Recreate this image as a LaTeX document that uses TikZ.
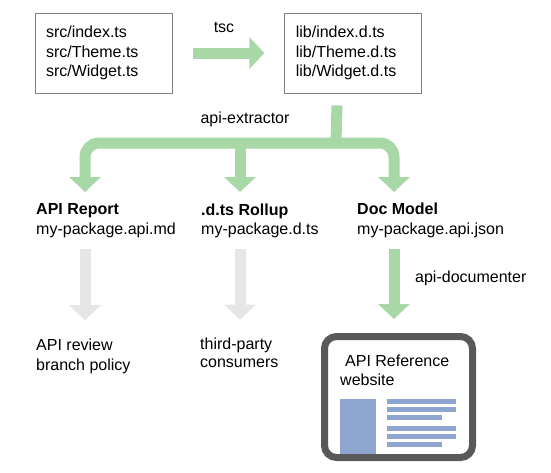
\documentclass[tikz,border=0pt]{standalone}
\usepackage{fontspec}
\setmainfont{Liberation Sans}
\usetikzlibrary{arrows.meta, positioning}

\definecolor{flowgreen}{RGB}{168,216,166}
\definecolor{idlegray}{RGB}{230,230,230}
\definecolor{pageblue}{RGB}{142,165,207}
\definecolor{framegray}{RGB}{89,89,89}
\definecolor{boxline}{RGB}{128,128,128}

\begin{document}
\begin{tikzpicture}[x=1pt, y=-1pt, font=\fontsize{16}{19.5}\selectfont]
% Define styles
\tikzstyle{filebox} = [rectangle, draw=boxline, line width=0.8pt, text width=115pt, align=left, inner xsep=11pt, minimum height=80pt]
\tikzstyle{textnode} = [inner sep=0pt, anchor=base west, align=left]
\tikzstyle{fatarrow} = [line width=11pt, -{Triangle[width=31pt,length=15pt]}]
\tikzstyle{greenarrow} = [fatarrow, draw=flowgreen]
\tikzstyle{grayarrow} = [fatarrow, draw=idlegray]
\tikzstyle{greenbus} = [line width=11pt, draw=flowgreen]

\useasboundingbox (0,0) rectangle (551,472);

% Sources and compiled output
\node (src) [filebox] at (103.5,53) {src/index.ts\\src/Theme.ts\\src/Widget.ts};
\node (lib) [filebox, right=112pt of src] {lib/index.d.ts\\lib/Theme.d.ts\\lib/Widget.d.ts};
\node (tsc) [textnode, anchor=base] at (224,32.5) {tsc};
\draw [greenarrow, shorten <=21pt, shorten >=20pt] (src.east) -- (lib.west);

% api-extractor fan-out
\node (extractor) [textnode, anchor=base] at (245,123.5) {api-extractor};
\coordinate (hub) at (336,143);
\coordinate (reportin) at (85,192);
\coordinate (rollupin) at (240,192);
\coordinate (modelin) at (394,192);
\draw [greenbus, shorten <=12pt] ([xshift=-16pt]lib.south) -- (hub);
\draw [greenarrow, rounded corners=14pt] (hub) -| (reportin);
\draw [greenarrow] (hub -| rollupin) -- (rollupin);
\draw [greenarrow, rounded corners=14pt] (hub) -| (modelin);

% Outputs (base = last line)
\node (report) [textnode] at (36,234) {\textbf{API Report}\\my-package.api.md};
\node (rollup) [textnode] at (201,234.5) {\textbf{.d.ts Rollup}\\my-package.d.ts};
\node (model) [textnode] at (357,234) {\textbf{Doc Model}\\my-package.api.json};

% Consumers
\node (review) [textnode, font=\fontsize{16}{20}\selectfont] at (36,370) {API review\\branch policy};
\node (consumers) [textnode, font=\fontsize{16}{17.5}\selectfont] at (200,367) {third-party\\consumers};
\node (documenter) [textnode] at (415,282) {api-documenter};

% Website
\fill [pageblue] (340,399) rectangle (376,454);
\foreach \y/\len in {399/456, 407/456, 415/442, 426/456, 434/456, 442/442}
  \fill [pageblue] (387,\y) rectangle (\len,\y+5);
\node (site) [draw=framegray, line width=7pt, rounded corners=12pt, minimum width=148pt, minimum height=121pt] at (398.5,397) {};
\node (sitetitle) [textnode] at (340,385.5) {\hspace*{5pt}API Reference\\website};

\draw [grayarrow, shorten <=11pt, shorten >=18pt] (report.south -| reportin) -- (review.north -| reportin);
\draw [grayarrow, shorten <=11pt, shorten >=18pt] (rollup.south -| rollupin) -- (consumers.north -| rollupin);
\draw [greenarrow, shorten <=11pt, shorten >=14pt] (model.south -| modelin) -- (site.north -| modelin);
\end{tikzpicture}
\end{document}
